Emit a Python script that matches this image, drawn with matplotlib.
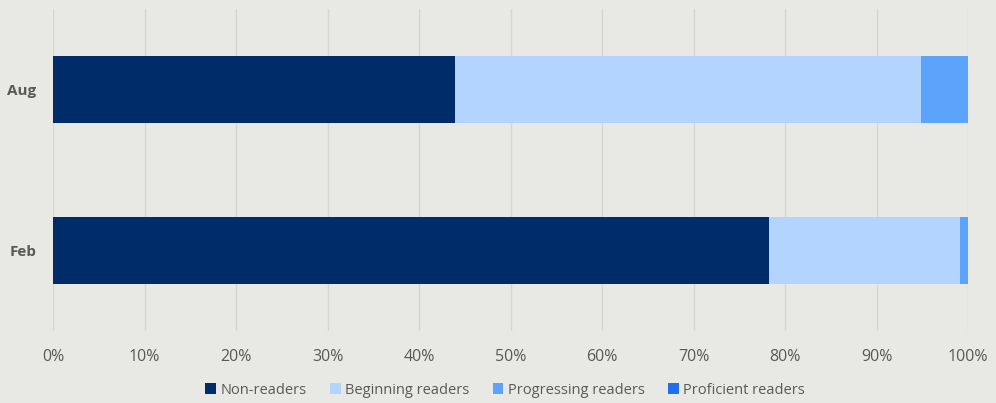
import matplotlib.pyplot as plt
import numpy as np

plt.rcParams['font.family'] = ['Open Sans', 'DejaVu Sans']

months = ['Aug', 'Feb']
categories = ['Non-readers', 'Beginning readers', 'Progressing readers', 'Proficient readers']
non_readers = [43.9, 78.3]
beginning = [51.0, 20.8]
progressing = [5.1, 0.9]
proficient = [0.0, 0.0]

colors = ['#002d6a', '#b2d4ff', '#5ba3fb', '#1f6ff0']
bg = '#e8e8e4'

fig = plt.figure(figsize=(9.96, 4.03), dpi=100, facecolor=bg)
ax = fig.add_axes([53 / 996, 72 / 403, 915 / 996, 322 / 403], facecolor=bg)

ypos = np.arange(len(months))
left = np.zeros(len(months))
for vals, name, col in zip([non_readers, beginning, progressing, proficient], categories, colors):
    ax.barh(ypos, vals, left=left, height=0.41, color=col, label=name, zorder=3)
    left += np.array(vals)

ax.set_xlim(0, 100)
ax.set_ylim(-0.5, 1.5)
ax.invert_yaxis()
ax.set_yticks(ypos)
ax.set_yticklabels(months, fontsize=11, fontweight='bold', color='#595959')
ax.set_xticks(np.arange(0, 101, 10))
ax.set_xticklabels([f'{v}%' for v in range(0, 101, 10)], fontsize=11.5, color='#595959')
ax.tick_params(axis='x', length=0, pad=13)
ax.tick_params(axis='y', length=0, pad=12)
ax.grid(axis='x', color='#d6d6d2', linewidth=1, zorder=0)
for s in ax.spines.values():
    s.set_visible(False)

fig.legend(loc='center', bbox_to_anchor=(0.507, 13 / 403), ncol=4, frameon=False,
           fontsize=10.5, handlelength=0.75, handleheight=0.75, handletextpad=0.3,
           columnspacing=1.6, labelcolor='#595959')

fig.savefig('out.png', dpi=100, facecolor=bg)
